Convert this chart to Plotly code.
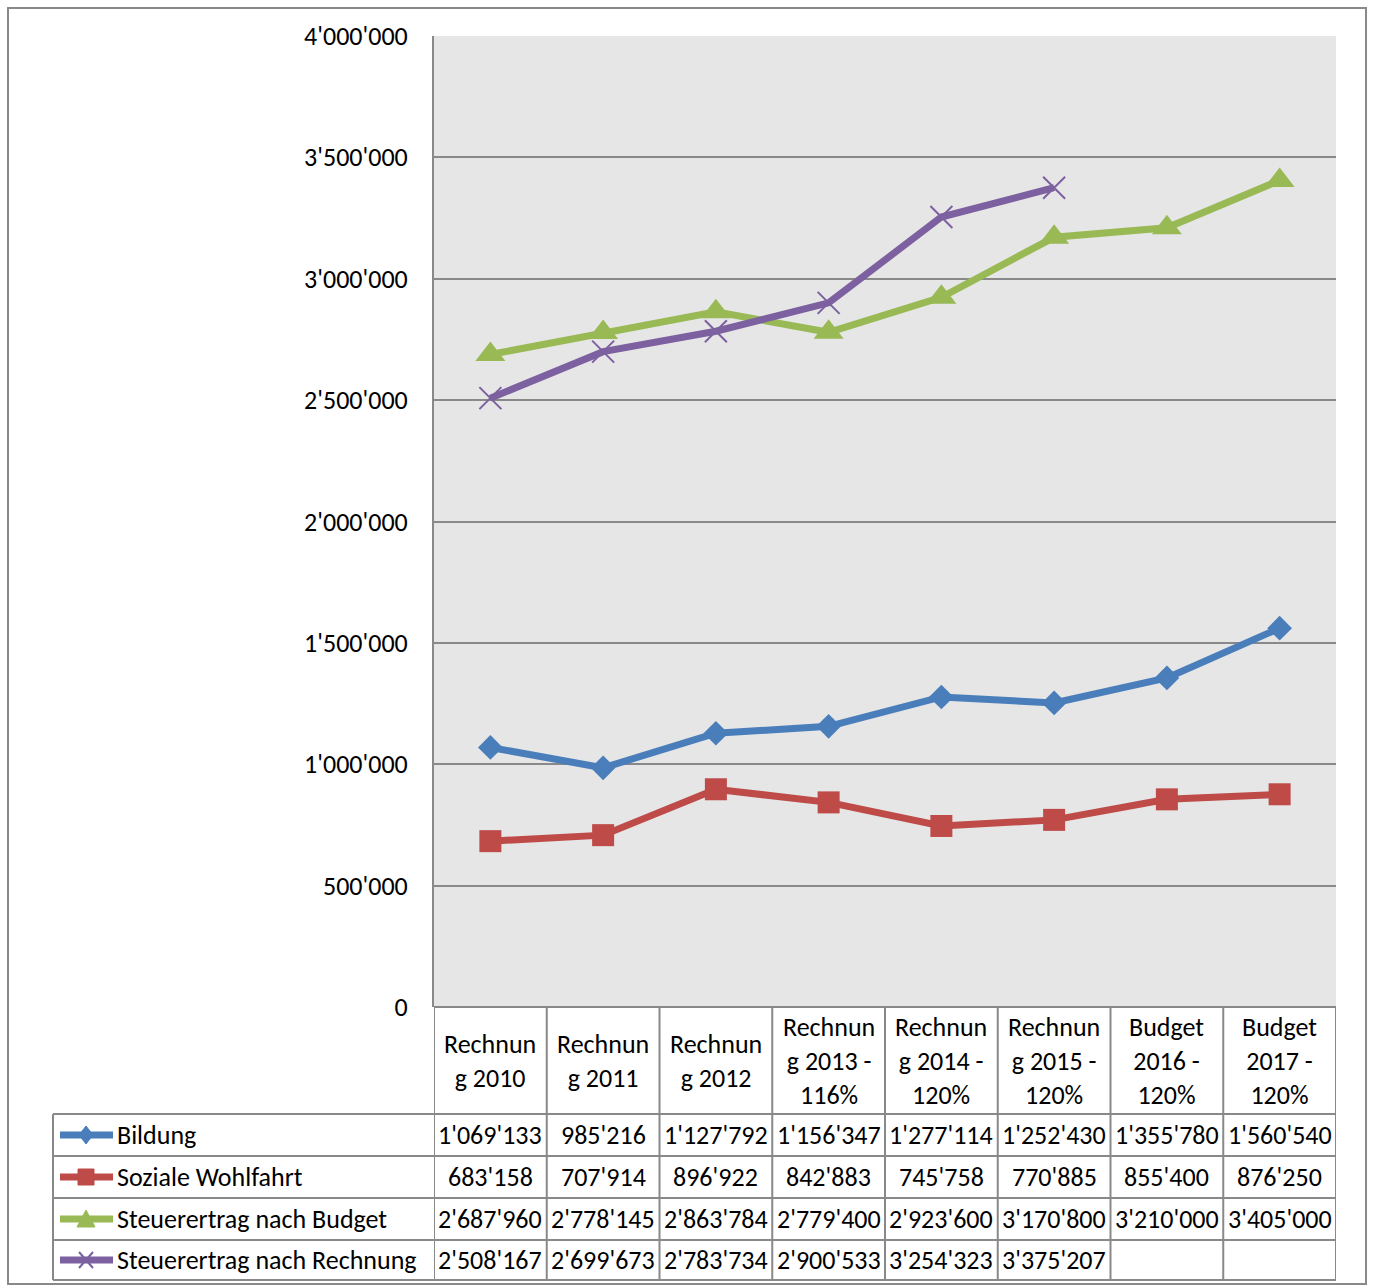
import plotly.graph_objects as go

W, H = 1373, 1287
L, R, T, B = 434, 37, 36, 280

categories = ["Rechnun<br>g 2010", "Rechnun<br>g 2011", "Rechnun<br>g 2012",
              "Rechnun<br>g 2013 -<br>116%", "Rechnun<br>g 2014 -<br>120%",
              "Rechnun<br>g 2015 -<br>120%", "Budget<br>2016 -<br>120%",
              "Budget<br>2017 -<br>120%"]
bildung = [1069133, 985216, 1127792, 1156347, 1277114, 1252430, 1355780, 1560540]
soziale = [683158, 707914, 896922, 842883, 745758, 770885, 855400, 876250]
steuer_budget = [2687960, 2778145, 2863784, 2779400, 2923600, 3170800, 3210000, 3405000]
steuer_rechnung = [2508167, 2699673, 2783734, 2900533, 3254323, 3375207, None, None]
series_names = ["Bildung", "Soziale Wohlfahrt", "Steuerertrag nach Budget",
                "Steuerertrag nach Rechnung"]
y_ticks = [0, 500000, 1000000, 1500000, 2000000, 2500000, 3000000, 3500000, 4000000]

colors = ["#4A7EBB", "#BE4B48", "#98B954", "#7D60A0"]
series = [bildung, soziale, steuer_budget, steuer_rechnung]
FONT = "Carlito, Calibri, Lato, sans-serif"
FS = 26
GRID = "#898989"

def fmt(v):
    return "" if v is None else f"{v:,}".replace(",", "'")

xs = list(range(len(categories)))
fig = go.Figure()
markers = [
    dict(symbol="diamond", size=19, color=colors[0]),
    dict(symbol="square", size=22, color=colors[1]),
    dict(symbol="triangle-up", size=26, color=colors[2]),
    dict(symbol="x-thin", size=22, color=colors[3], line=dict(width=2, color=colors[3])),
]
for name, vals, c, m in zip(series_names, series, colors, markers):
    fig.add_trace(go.Scatter(x=xs, y=vals, name=name, mode="lines+markers",
                             line=dict(color=c, width=7), marker=m,
                             cliponaxis=False, showlegend=False))

ph = H - T - B
pw = W - L - R
def px(x):
    return (x - L) / pw
def py(y):
    return (H - B - y) / ph

shapes = []
ann = []
# outer border
shapes.append(dict(type="rect", xref="paper", yref="paper", x0=px(8), x1=px(1366),
                   y0=py(8), y1=py(1284), line=dict(color=GRID, width=2), layer="below"))

# table geometry
header_bottom = 1114
row_edges = [1114, 1156, 1198, 1240, 1280]
shapes.append(dict(type="line", xref="paper", yref="paper", x0=px(L), x1=px(W - R),
                   y0=py(H - B), y1=py(H - B), line=dict(color=GRID, width=2)))
for ye in row_edges:
    shapes.append(dict(type="line", xref="paper", yref="paper", x0=px(53), x1=px(W - R),
                       y0=py(ye), y1=py(ye), line=dict(color=GRID, width=2)))
shapes.append(dict(type="line", xref="paper", yref="paper", x0=px(53), x1=px(53),
                   y0=py(1114), y1=py(1280), line=dict(color=GRID, width=2)))
for i in range(len(categories) + 1):
    shapes.append(dict(type="line", xref="x", yref="paper", x0=i - 0.5, x1=i - 0.5,
                       y0=py(H - B), y1=py(1280), line=dict(color=GRID, width=2)))

# header text
for i, cat in enumerate(categories):
    ann.append(dict(x=i, xref="x", y=py((H - B + header_bottom) / 2), yref="paper",
                    text=cat, showarrow=False, font=dict(family=FONT, size=FS, color="black"),
                    align="center", xanchor="center", yanchor="middle"))

# rows
for r, (name, vals, c) in enumerate(zip(series_names, series, colors)):
    yc = (row_edges[r] + row_edges[r + 1]) / 2
    ann.append(dict(x=px(115), xref="paper", y=py(yc), yref="paper", text=name,
                    showarrow=False, xanchor="left", yanchor="middle",
                    font=dict(family=FONT, size=FS, color="black")))
    for i, v in enumerate(vals):
        if v is None:
            continue
        ann.append(dict(x=i, xref="x", y=py(yc), yref="paper", text=fmt(v),
                        showarrow=False, xanchor="center", yanchor="middle",
                        font=dict(family=FONT, size=FS, color="black")))
    shapes.append(dict(type="line", xref="paper", yref="paper", x0=px(60), x1=px(113),
                       y0=py(yc), y1=py(yc), line=dict(color=c, width=7)))
    cx, cy = 86, yc
    if r == 0:
        path = f"M {px(cx)} {py(cy-9)} L {px(cx+7)} {py(cy)} L {px(cx)} {py(cy+9)} L {px(cx-7)} {py(cy)} Z"
        shapes.append(dict(type="path", xref="paper", yref="paper", path=path,
                           fillcolor=c, line=dict(color=c, width=1)))
    elif r == 1:
        shapes.append(dict(type="rect", xref="paper", yref="paper", x0=px(cx-8), x1=px(cx+8),
                           y0=py(cy-8), y1=py(cy+8), fillcolor=c, line=dict(color=c, width=1)))
    elif r == 2:
        path = f"M {px(cx)} {py(cy-9)} L {px(cx+9)} {py(cy+8)} L {px(cx-9)} {py(cy+8)} Z"
        shapes.append(dict(type="path", xref="paper", yref="paper", path=path,
                           fillcolor=c, line=dict(color=c, width=1)))
    else:
        for d in (1, -1):
            shapes.append(dict(type="line", xref="paper", yref="paper",
                               x0=px(cx-7), x1=px(cx+7), y0=py(cy-8*d), y1=py(cy+8*d),
                               line=dict(color=c, width=2)))

fig.update_layout(
    width=W, height=H,
    margin=dict(l=L, r=R, t=T, b=B, pad=0),
    paper_bgcolor="white", plot_bgcolor="#E6E6E6",
    separators=".'",
    font=dict(family=FONT, size=FS, color="black"),
    shapes=shapes, annotations=ann,
    showlegend=False,
)
fig.update_xaxes(range=[-0.5, len(categories) - 0.5], showticklabels=False,
                 showgrid=False, zeroline=False, showline=False, fixedrange=True)
fig.update_yaxes(range=[0, 4000000], tickvals=y_ticks, tickformat=",d",
                 showgrid=True, gridcolor=GRID, gridwidth=1.5, zeroline=False,
                 showline=True, linecolor=GRID, linewidth=2,
                 ticklabelstandoff=19, tickfont=dict(family=FONT, size=FS, color="black"))

fig.write_html("out.html")
